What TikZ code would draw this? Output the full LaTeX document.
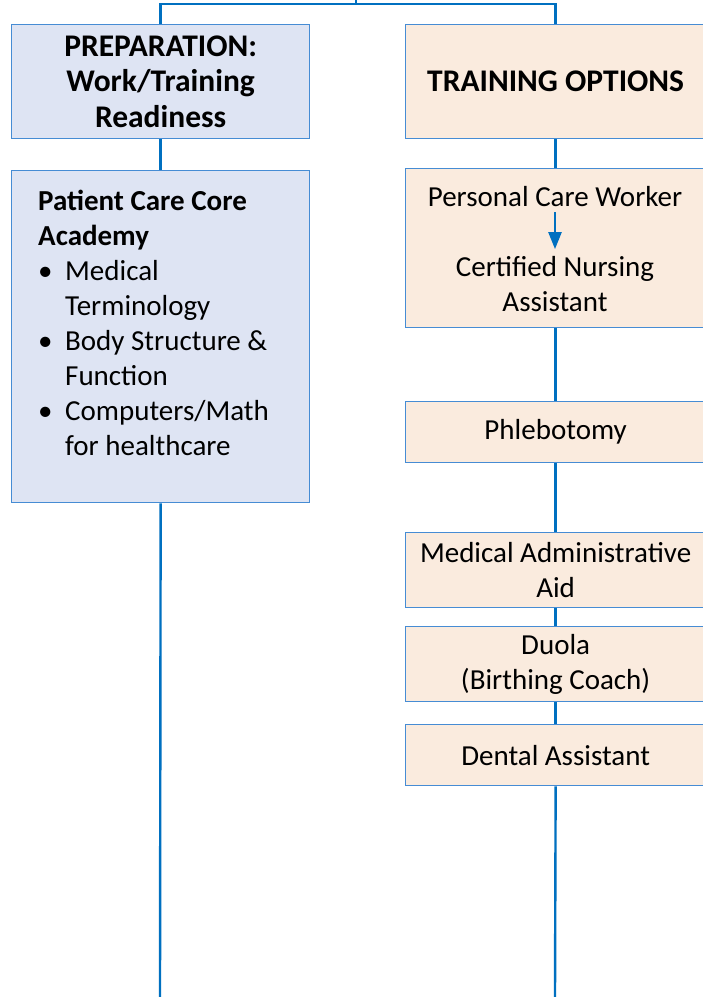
\documentclass[tikz,border=0pt]{standalone}
\usepackage{fontspec}
\setmainfont{Carlito}
\usetikzlibrary{arrows.meta}
\definecolor{lineblue}{RGB}{0,112,192}
\definecolor{edgeblue}{RGB}{70,140,212}
\definecolor{bluefill}{RGB}{222,228,243}
\definecolor{peachfill}{RGB}{250,235,222}
\begin{document}
\begin{tikzpicture}[x=1pt,y=-1pt,
  txt/.style={font=\fontsize{29}{35}\selectfont},
  btxt/.style={font=\bfseries\fontsize{31.5}{35.5}\selectfont},
  boxbase/.style={draw=edgeblue,line width=1.3pt,inner sep=0pt,anchor=north west,align=center},
  bluebox/.style={boxbase,fill=bluefill},
  peachbox/.style={boxbase,fill=peachfill},
  conn/.style={draw=lineblue,line width=2.4pt}
]
\useasboundingbox (0,0) rectangle (703,997);
\clip (0,0) rectangle (703,997);
\fill[white] (0,0) rectangle (703,997);

% left column
\node[bluebox,btxt,minimum width=298,minimum height=114] (prep) at (11,24) {PREPARATION:\\Work/Training\\Readiness};
\node[bluebox,minimum width=298,minimum height=332] (core) at (11,170) {};
\node[txt,anchor=north west,inner sep=0pt,align=left] (coretext) at (38,190)
 {\textbf{Patient Care Core}\\\textbf{Academy}\\
  \makebox[27pt][l]{\textbullet}Medical\\\hspace*{27pt}Terminology\\
  \makebox[27pt][l]{\textbullet}Body Structure \&\\\hspace*{27pt}Function\\
  \makebox[27pt][l]{\textbullet}Computers/Math\\\hspace*{27pt}for healthcare};

% right column
\node[peachbox,btxt,minimum width=300,minimum height=114] (train) at (405,24) {TRAINING OPTIONS};
\node[peachbox,minimum width=300,minimum height=159] (pcwbox) at (405,168) {};
\node[txt,inner sep=0pt] (pcw) at (555,197) {Personal Care Worker};
\node[txt,inner sep=0pt,align=center] (cna) at (555,284) {Certified Nursing\\Assistant};
\node[peachbox,txt,minimum width=300,minimum height=61] (phleb) at (405,401) {Phlebotomy};
\node[peachbox,txt,minimum width=300,minimum height=75] (mad) at (405,532) {Medical Administrative\\Aid};
\node[peachbox,txt,minimum width=300,minimum height=75] (duola) at (405,626) {Duola\\(Birthing Coach)};
\node[peachbox,txt,minimum width=300,minimum height=61] (dental) at (405,724) {Dental Assistant};

% connectors
\coordinate (top) at (356,0);
\coordinate (j) at (356,4);
\coordinate (lb) at (160,997);
\coordinate (rb) at (555,997);
\draw[conn] (top) -- (j);
\draw[conn] (prep.north) -- (prep.north |- j) -- (train.north |- j) -- (train.north);
\draw[conn] (prep.south) -- (core.north);
\draw[conn] (core.south) -- (lb);
\draw[conn] (train.south) -- (pcwbox.north);
\draw[conn] (pcwbox.south) -- (phleb.north);
\draw[conn] (phleb.south) -- (mad.north);
\draw[conn] (mad.south) -- (duola.north);
\draw[conn] (duola.south) -- (dental.north);
\draw[conn] (dental.south) -- (rb);
\draw[conn,-{Triangle[width=13pt,length=17pt]},shorten <=5pt,shorten >=7pt] (pcw.south) -- (cna.north);
\end{tikzpicture}
\end{document}
